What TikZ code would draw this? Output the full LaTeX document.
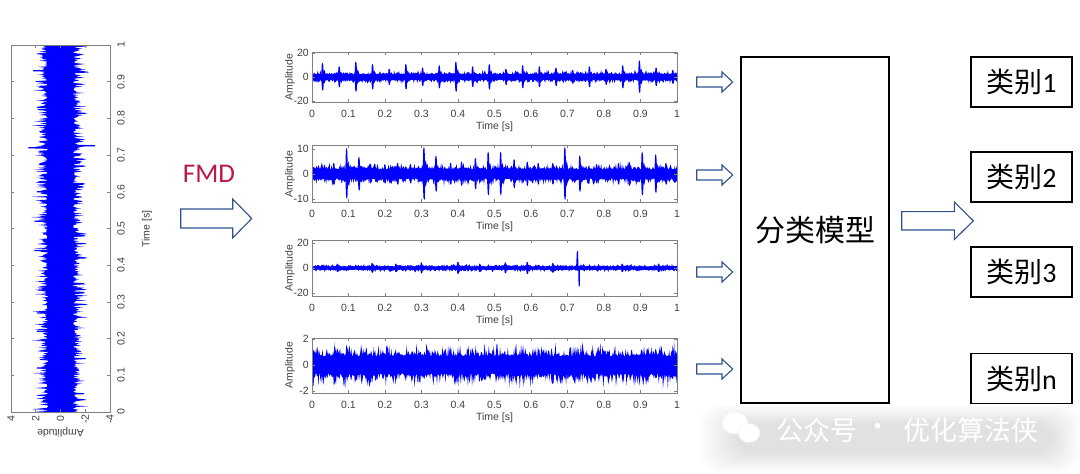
\documentclass[tikz,border=0pt]{standalone}
\usepackage{fontspec}
\setmainfont{Carlito}
\newfontfamily\cjk{Noto Sans CJK SC}
\newfontfamily\axf{Liberation Sans}
\definecolor{fmdred}{RGB}{189,23,68}
\definecolor{arrblue}{RGB}{47,82,143}
\definecolor{sigblue}{RGB}{0,0,255}
\tikzset{
  axline/.style={draw=black!50, line width=0.6pt},
  sigfill/.style={fill=sigblue},
  tk/.style={font=\axf\fontsize{10.5}{12}\selectfont, text=black!75, inner sep=0pt},
  hollow/.style={draw=arrblue, line width=1.1pt, fill=white, line join=miter},
  catbox/.style={draw=black, line width=1.1pt, minimum width=101pt, minimum height=50pt, inner sep=0pt, font=\fontsize{28}{30}\selectfont},
  model/.style={draw=black, line width=1.1pt, minimum width=148pt, minimum height=346pt, inner sep=0pt, font=\cjk\fontsize{30}{32}\selectfont},
}
% block arrow: x start, x head, x tip, y centre, half body, half head
\newcommand\blockarrow[6]{%
  \draw[hollow] (#1,#4-#5) -- (#2,#4-#5) -- (#2,#4-#6) -- (#3,#4) -- (#2,#4+#6) -- (#2,#4+#5) -- (#1,#4+#5) -- cycle;}
\newcommand\ticklab[1]{\ifcase#1\relax 0\or 0.1\or 0.2\or 0.3\or 0.4\or 0.5\or 0.6\or 0.7\or 0.8\or 0.9\or 1\fi}
% time axis of a horizontal plot: name, top, bottom
\newcommand\timeaxis[3]{%
  \draw[axline] (312,#2) rectangle (677,#3);
  \foreach \i in {0,...,10}{%
    \pgfmathsetmacro\xx{312+36.5*\i}
    \draw[axline] (\xx,#3) -- (\xx,#3-3) (\xx,#2) -- (\xx,#2+3);
    \node[tk] (#1x\i) at (\xx,#3+12) {\ticklab{\i}};
  }
  \node[tk] (#1t) at (494.5,#3+25) {Time [s]};}
% y tick: name, y, label
\newcommand\ytick[3]{%
  \draw[axline] (312,#2) -- (315,#2) (677,#2) -- (674,#2);
  \node[tk, anchor=east] (#1) at (309,#2) {#3};}
% noise band: core, extra
\newcommand\band[2]{%
  \fill[sigfill] plot[domain=0:1, samples=520] (\x,{#1+#2*abs(rand*rand)}) -- plot[domain=1:0, samples=520] (\x,{-#1-#2*abs(rand*rand)}) -- cycle;}
% spike: time, height
\newcommand\spike[2]{%
  \fill[sigfill] (#1-0.004,0) -- (#1-0.0022,0.9*#2) -- (#1-0.0005,#2) -- (#1+0.0015,0.9*#2) -- (#1+0.003,0.35*#2) -- (#1+0.005,0.5*#2) -- (#1+0.008,0.25*#2) -- (#1+0.012,0)
     -- (#1+0.008,-0.25*#2) -- (#1+0.005,-0.45*#2) -- (#1+0.0035,-0.35*#2) -- (#1+0.002,-0.9*#2) -- (#1+0.0002,-0.95*#2) -- (#1-0.0018,-0.85*#2) -- cycle;}
\begin{document}
\begin{tikzpicture}[x=1pt,y=-1pt]
\useasboundingbox (0,0) rectangle (1080,474);
\pgfmathsetseed{4711}

% ---------- left (rotated) signal ----------
\begin{scope}
  \clip (11,45) rectangle (110,412);
  \begin{scope}[shift={(60.5,412)}, x=-12.4pt, y=367pt]
    \fill[sigfill] plot[domain=0:1, samples=520] ({1.0+1.4*abs(rand*rand)},\x) -- plot[domain=1:0, samples=520] ({-1.0-1.4*abs(rand*rand)},\x) -- cycle;
    \foreach \t/\a/\b in {0.93/2.2/-1.5, 0.72/2.6/-2.8, 0.52/2.1/-1.4, 0.44/2.1/-1.3, 0.42/-2.1/1.2, 0.22/1.9/-1.4, 0.67/-2.0/1.3, 0.48/-2.0/1.4, 0.83/1.9/-1.3, 0.35/-1.9/1.3, 0.12/1.9/-1.2, 0.05/-1.9/1.3, 0.27/1.9/-1.3, 0.60/1.9/-1.2}{
      \fill[sigfill] (0,\t-0.004) -- (\a,\t-0.0015) -- (\a,\t+0.0015) -- (0.3*\a,\t+0.003) -- (\b,\t+0.004) -- (\b,\t+0.007) -- (0,\t+0.009) -- cycle;
    }
  \end{scope}
\end{scope}
\draw[axline] (11,45) rectangle (110,412);
\foreach \i in {0,...,10}{%
  \pgfmathsetmacro\yy{412-36.7*\i}
  \draw[axline] (11,\yy) -- (14,\yy) (110,\yy) -- (107,\yy);
  \node[tk, rotate=90] (lt\i) at (121,\yy) {\ticklab{\i}};
}
\foreach \a/\lab [count=\k] in {11/4, 35.75/2, 60.5/0, 85.25/-2, 110/-4}{%
  \draw[axline] (\a,45) -- (\a,48) (\a,412) -- (\a,409);
  \node[tk, rotate=90] (la\k) at (\a,419) {\lab};
}
\node[tk, rotate=90] (ltime) at (147,229) {Time [s]};
\node[tk, rotate=180] (lamp) at (60.5,432) {Amplitude};

% ---------- FMD ----------
\node[font=\fontsize{27}{30}\selectfont, text=fmdred, inner sep=0pt] (fmd) at (209,174) {FMD};
\blockarrow{180.7}{232.7}{251.7}{218.5}{9.5}{19.5}

% ---------- plot 1 ----------
\begin{scope}
  \clip (312,52) rectangle (677,102);
  \begin{scope}[shift={(312,77)}, x=365pt, y=1.2pt]
    \band{2.2}{4.0}
    \foreach \h [count=\k from 0] in {12,9,13,11,7,11,8,10,13,9,11,7,10,9,8,6,9,7,10,14,8,6}{
      \spike{0.029+0.0457*\k}{\h}
    }
  \end{scope}
\end{scope}
\timeaxis{pa}{52}{102}
\ytick{pay1}{53}{20}
\ytick{pay2}{77}{0}
\ytick{pay3}{101}{-20}
\node[tk, rotate=90] (paamp) at (290,77) {Amplitude};

% ---------- plot 2 ----------
\begin{scope}
  \clip (312,145) rectangle (677,202);
  \begin{scope}[shift={(312,174)}, x=365pt, y=2.5pt]
    \band{1.8}{3.2}
    \foreach \t/\h in {0.095/10.5, 0.129/7, 0.307/11, 0.340/7.5, 0.448/6.5, 0.483/9, 0.517/9, 0.554/6, 0.693/11, 0.734/7.5, 0.869/5, 0.905/9, 0.942/8, 0.06/4.5, 0.20/4, 0.235/4.5, 0.38/4.5, 0.41/5, 0.59/5, 0.62/4.5, 0.78/4, 0.84/4.5, 0.97/4.5, 0.16/4, 0.27/4, 0.66/4.5}{
      \spike{\t}{\h}
    }
  \end{scope}
\end{scope}
\timeaxis{pb}{145}{202}
\ytick{pby1}{149}{10}
\ytick{pby2}{174}{0}
\ytick{pby3}{199}{-10}
\node[tk, rotate=90] (pbamp) at (290,174) {Amplitude};

% ---------- plot 3 ----------
\begin{scope}
  \clip (312,240) rectangle (677,296);
  \begin{scope}[shift={(312,268)}, x=365pt, y=1.25pt]
    \band{1.2}{2.4}
    \foreach \t/\h in {0.165/4, 0.30/4.5, 0.40/5, 0.53/4.5, 0.59/5, 0.07/3.5, 0.23/3.5, 0.46/3.5, 0.66/4, 0.85/3.5, 0.95/3.5}{
      \spike{\t}{\h}
    }
    \fill[sigfill] (0.7235,0) -- (0.7255,13) -- (0.729,14) -- (0.7298,2) -- (0.7302,-14) -- (0.7335,-15) -- (0.734,-2) -- (0.737,3) -- (0.741,0) -- cycle;
  \end{scope}
\end{scope}
\timeaxis{pc}{240}{296}
\ytick{pcy1}{243}{20}
\ytick{pcy2}{268}{0}
\ytick{pcy3}{293}{-20}
\node[tk, rotate=90] (pcamp) at (290,268) {Amplitude};

% ---------- plot 4 ----------
\begin{scope}
  \clip (312,338) rectangle (677,393);
  \begin{scope}[shift={(312,365)}, x=365pt, y=13pt]
    \band{0.65}{1.25}
  \end{scope}
\end{scope}
\timeaxis{pd}{338}{393}
\ytick{pdy1}{339}{2}
\ytick{pdy2}{365}{0}
\ytick{pdy3}{391}{-2}
\node[tk, rotate=90] (pdamp) at (290,365) {Amplitude};

% ---------- small arrows ----------
\foreach \y in {82,175,272,369}{
  \blockarrow{696.7}{722}{732.7}{\y}{5}{10}
}

% ---------- model and classes ----------
\node[model] (model) at (815,230) {分类模型};
\blockarrow{901.7}{954.3}{973.3}{220.8}{9.2}{18.8}
\node[catbox] (c1) at (1021.5,82) {{\cjk 类别}1};
\node[catbox] (c2) at (1021.5,177) {{\cjk 类别}2};
\node[catbox] (c3) at (1021.5,272) {{\cjk 类别}3};
\node[catbox] (cn) at (1021.5,378.5) {{\cjk 类别}n};

% ---------- watermark ----------
\foreach \k in {0,...,9}{
  \fill[black, opacity=0.01, rounded corners=20pt] (700+4*\k,405+2*\k) rectangle (1080-3*\k,472-2*\k);
}
\fill[white, draw=black!6] (735,423) ellipse (13 and 11);
\fill[white, draw=black!6] (749,433) ellipse (11 and 9.5);
\node[font=\cjk\fontsize{27}{30}\selectfont, text=white, inner sep=0pt] (wm1) at (816.5,430) {公众号};
\node[font=\cjk\fontsize{27}{30}\selectfont, text=white, inner sep=0pt] (wmdot) at (878,430) {·};
\node[font=\cjk\fontsize{27}{30}\selectfont, text=white, inner sep=0pt] (wm2) at (971,430) {优化算法侠};
\end{tikzpicture}
\end{document}
